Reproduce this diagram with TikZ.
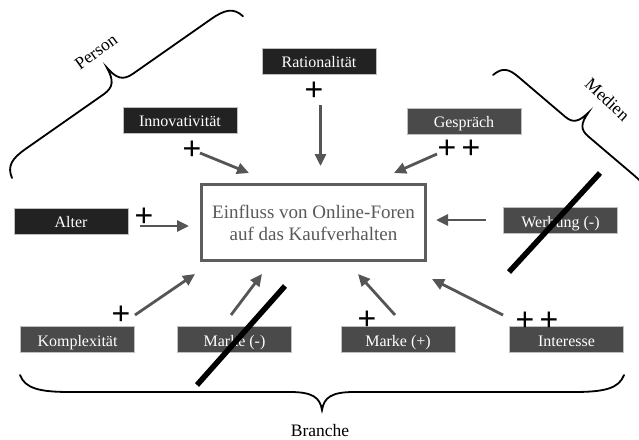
\documentclass[tikz,border=0pt]{standalone}
\usepackage{fontspec}
\setmainfont{Liberation Serif}
\newfontfamily\plusfont{Liberation Sans}
\newcommand{\plussetup}{\plusfont\fontsize{32}{32}\selectfont\spaceskip 0.165em\relax}
\usetikzlibrary{arrows.meta}
\definecolor{darkbox}{HTML}{222222}
\definecolor{graybox}{HTML}{4A4A4A}
\definecolor{arrgray}{HTML}{555555}
\definecolor{boxborder}{HTML}{5E5E5E}
\definecolor{boxtext}{HTML}{595959}
\begin{document}
\begin{tikzpicture}[x=1pt,y=-1pt,
  lbl/.style={rectangle, minimum width=114pt, minimum height=26pt, inner sep=0pt,
    text=white, font=\fontsize{16}{16}\selectfont, text height=13pt, text depth=0pt,
    draw=black!25, line width=0.5pt},
  darklbl/.style={lbl, fill=darkbox},
  graylbl/.style={lbl, fill=graybox},
  mainbox/.style={rectangle, draw=boxborder, line width=3pt, fill=white,
    minimum width=224pt, minimum height=76pt, inner sep=0pt, align=center,
    text=boxtext, font=\fontsize{19}{22}\selectfont},
  arr/.style={draw=arrgray, line width=2.8pt, -{Triangle[length=12pt,width=11pt]}},
  plussign/.style={font={\plussetup}, inner sep=0pt, anchor=base},
  strike/.style={line width=5.5pt, draw=black},
  bracestyle/.style={line width=1.8pt, draw=black, line cap=round},
  grouplbl/.style={font=\fontsize{17.5}{17.5}\selectfont, inner sep=0pt}
]
\useasboundingbox (0,0) rectangle (639,439);

% central box
\node[mainbox] (main) at (313.5,222.5) {Einfluss von Online-Foren\\auf das Kaufverhalten};

% factor boxes
\node[darklbl] (rat)   at (319,61)      {Rationalität};
\node[darklbl] (inno)  at (180,120)     {Innovativität};
\node[graylbl] (gesp)  at (464,121)     {Gespräch};
\node[darklbl] (alter) at (71,221)      {Alter};
\node[graylbl] (werb)  at (560.5,220.5) {Werbung (-)};
\node[graylbl] (komp)  at (77.5,339.5)  {Komplexität};
\node[graylbl] (markm) at (234.5,339.5) {Marke (-)};
\node[graylbl] (markp) at (398,339.5)   {Marke (+)};
\node[graylbl] (inter) at (566.5,339.5) {Interesse};

% plus signs
\node[plussign] (p-rat)   at (314,100.1)   {+};
\node[plussign] (p-inno)  at (192,159.1)   {+};
\node[plussign] (p-gesp)  at (459,158.6)   {+ +};
\node[plussign] (p-alter) at (144,226.1)   {+};
\node[plussign] (p-komp)  at (121,324.1)   {+};
\node[plussign] (p-markp) at (367,329.1)   {+};
\node[plussign] (p-inter) at (537,330.1)   {+ +};

% arrow end points
\coordinate (rat-s) at (320.5,105);   \coordinate (rat-e) at (320.5,166);
\coordinate (inno-s) at (200,153);    \coordinate (inno-e) at (249,173);
\coordinate (gesp-s) at (437,154);    \coordinate (gesp-e) at (394,173);
\coordinate (alter-s) at (140,226);   \coordinate (alter-e) at (189,226);
\coordinate (werb-s) at (486,220);    \coordinate (werb-e) at (436,220);
\coordinate (komp-s) at (135,315);    \coordinate (komp-e) at (195,274);
\coordinate (markm-s) at (231,315);   \coordinate (markm-e) at (262,274);
\coordinate (markp-s) at (395,315);   \coordinate (markp-e) at (358,274);
\coordinate (inter-s) at (503,315);   \coordinate (inter-e) at (432,279);

\draw[arr] (rat-s) -- (rat-e);
\draw[arr] (inno-s) -- (inno-e);
\draw[arr] (gesp-s) -- (gesp-e);
\draw[arr] (alter-s) -- (alter-e);
\draw[arr] (werb-s) -- (werb-e);
\draw[arr] (komp-s) -- (komp-e);
\draw[arr] (markm-s) -- (markm-e);
\draw[arr] (markp-s) -- (markp-e);
\draw[arr] (inter-s) -- (inter-e);

% strike-through lines
\coordinate (sw-a) at (509,272); \coordinate (sw-b) at (600,173);
\coordinate (sm-a) at (197,385); \coordinate (sm-b) at (285,286);
\draw[strike] (sw-a) -- (sw-b);
\draw[strike] (sm-a) -- (sm-b);

% braces
\begin{scope}[shift={(12,178)}, rotate=35]
\draw[bracestyle] (0,0) .. controls (2.8,-12.8) and (11.2,-16) .. (28,-16) -- (123,-16)
  .. controls (135.6,-16) and (139.5,-22) .. (141,-36)
  .. controls (142.5,-22) and (146.4,-16) .. (159,-16) -- (254,-16)
  .. controls (270.8,-16) and (279.2,-12.8) .. (282,0);
\end{scope}
\begin{scope}[shift={(493,75)}, rotate=-40.4]
\draw[bracestyle] (0,0) .. controls (2,-12) and (8,-15) .. (20,-15) -- (82,-15)
  .. controls (92.5,-15) and (95.8,-20.4) .. (97,-33)
  .. controls (98.2,-20.4) and (101.5,-15) .. (112,-15) -- (174,-15)
  .. controls (186,-15) and (192,-12) .. (194,0);
\end{scope}
\begin{scope}[shift={(624,375)}, rotate=180]
\draw[bracestyle] (0,0) .. controls (5,-13.6) and (20,-17) .. (50,-17) -- (270,-17)
  .. controls (292.4,-17) and (300,-22.4) .. (302,-35)
  .. controls (304,-22.4) and (311.6,-17) .. (334,-17) -- (554,-17)
  .. controls (584,-17) and (599,-13.6) .. (604,0);
\end{scope}

% group labels
\node[grouplbl, rotate=36] (person) at (96,52) {Person};
\node[grouplbl, rotate=-43] (medien) at (607.5,99.5) {Medien};
\node[grouplbl, anchor=base] (branche) at (320,436.7) {Branche};
\end{tikzpicture}
\end{document}
